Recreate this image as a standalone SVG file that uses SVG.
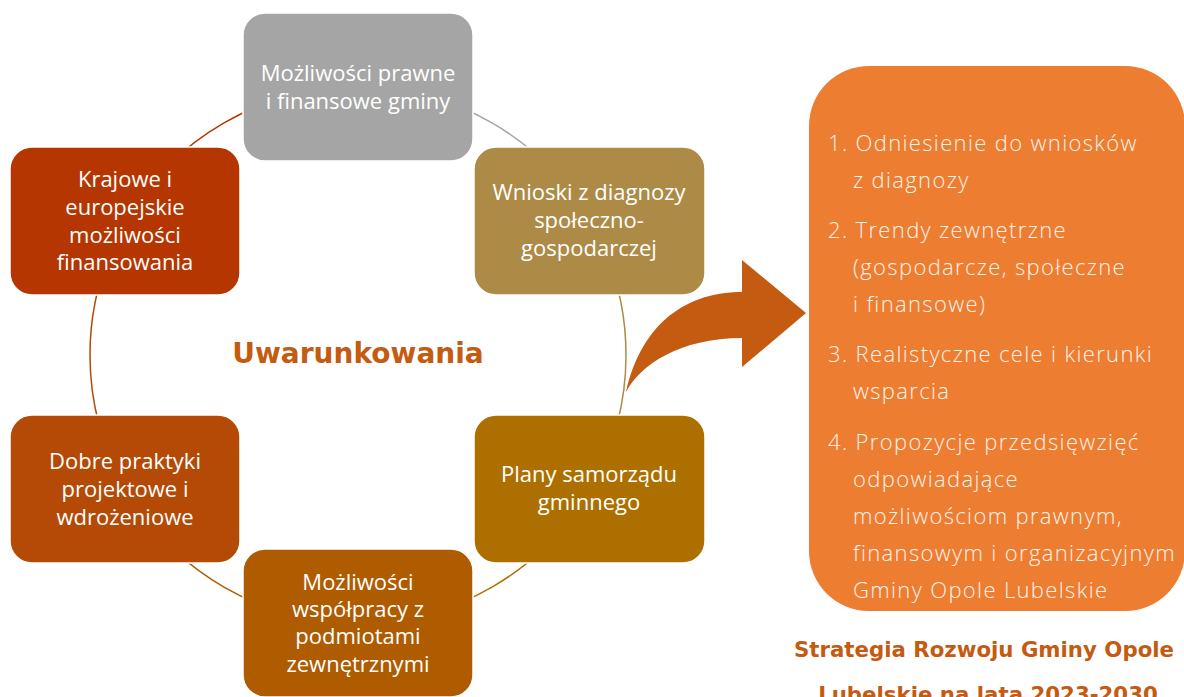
<svg xmlns="http://www.w3.org/2000/svg" width="1184" height="697" viewBox="0 0 1184 697">
<style>
.box{stroke:#ffffff;stroke-width:1.5}
.bt{font-family:"Open Sans","Liberation Sans",sans-serif;font-size:22px;fill:#ffffff;text-anchor:middle}
.arc{fill:none;stroke-width:1.5}
.rt{font-family:"Open Sans","Liberation Sans",sans-serif;font-weight:300;font-size:22px;letter-spacing:1.35px;fill:#fff4ec}
.title{font-family:"DejaVu Sans","Liberation Sans",sans-serif;font-weight:bold;fill:#c55a11;text-anchor:middle}
</style>
<rect width="1184" height="697" fill="#ffffff"/>
<g id="connectors">
<path class="arc" stroke="#a5a5a5" d="M358 87 A268 268 0 0 1 590.1 221"/>
<path class="arc" stroke="#ad8b46" d="M590.1 221 A268 268 0 0 1 590.1 489"/>
<path class="arc" stroke="#ad7000" d="M590.1 489 A268 268 0 0 1 358 623"/>
<path class="arc" stroke="#af5b00" d="M358 623 A268 268 0 0 1 125.9 489"/>
<path class="arc" stroke="#b44a06" d="M125.9 489 A268 268 0 0 1 125.9 221"/>
<path class="arc" stroke="#b53600" d="M125.9 221 A268 268 0 0 1 358 87"/>
</g>
<g id="n-prawne">
<rect class="box" x="243" y="13" width="230" height="148" rx="22" fill="#a5a5a5"/>
<text class="bt" x="358" y="81">Możliwości prawne</text>
<text class="bt" x="358" y="109">i finansowe gminy</text>
</g>
<g id="n-wnioski">
<rect class="box" x="474" y="147" width="231" height="148" rx="22" fill="#ad8b46"/>
<text class="bt" x="589" y="200">Wnioski z diagnozy</text>
<text class="bt" x="589" y="228">społeczno-</text>
<text class="bt" x="589" y="256">gospodarczej</text>
</g>
<g id="n-plany">
<rect class="box" x="474" y="415" width="231" height="148" rx="22" fill="#ad7000"/>
<text class="bt" x="589" y="482">Plany samorządu</text>
<text class="bt" x="589" y="510">gminnego</text>
</g>
<g id="n-wspolpraca">
<rect class="box" x="243" y="549" width="230" height="148" rx="22" fill="#af5b00"/>
<text class="bt" x="358" y="590">Możliwości</text>
<text class="bt" x="358" y="617">współpracy z</text>
<text class="bt" x="358" y="644">podmiotami</text>
<text class="bt" x="358" y="672">zewnętrznymi</text>
</g>
<g id="n-dobre">
<rect class="box" x="10" y="415" width="230" height="148" rx="22" fill="#b44a06"/>
<text class="bt" x="125" y="469">Dobre praktyki</text>
<text class="bt" x="125" y="497">projektowe i</text>
<text class="bt" x="125" y="525">wdrożeniowe</text>
</g>
<g id="n-krajowe">
<rect class="box" x="10" y="147" width="230" height="148" rx="22" fill="#b53600"/>
<text class="bt" x="125" y="187">Krajowe i</text>
<text class="bt" x="125" y="215">europejskie</text>
<text class="bt" x="125" y="243">możliwości</text>
<text class="bt" x="125" y="270">finansowania</text>
</g>
<g id="center-label">
<text class="title" x="358" y="363" font-size="28">Uwarunkowania</text>
</g>
<g id="arrow">
<path fill="#c55a11" d="M626 392 C640 330 680 292 742 292 L742 260 L806 313 L742 367 L742 338 C680 338 640 365 626 392 Z"/>
</g>
<g id="n-strategia">
<rect x="809" y="66" width="376" height="545" rx="60" fill="#ed7d31"/>
<text class="rt" x="828" y="151">1. Odniesienie do wniosków</text>
<text class="rt" x="853" y="188">z diagnozy</text>
<text class="rt" x="828" y="238">2. Trendy zewnętrzne</text>
<text class="rt" x="853" y="275">(gospodarcze, społeczne</text>
<text class="rt" x="853" y="312">i finansowe)</text>
<text class="rt" x="828" y="362">3. Realistyczne cele i kierunki</text>
<text class="rt" x="853" y="399">wsparcia</text>
<text class="rt" x="828" y="450">4. Propozycje przedsięwzięć</text>
<text class="rt" x="853" y="487">odpowiadające</text>
<text class="rt" x="853" y="524">możliwościom prawnym,</text>
<text class="rt" x="853" y="561">finansowym i organizacyjnym</text>
<text class="rt" x="853" y="598">Gminy Opole Lubelskie</text>
</g>
<g id="caption">
<text class="title" x="984" y="657" font-size="21.3">Strategia Rozwoju Gminy Opole</text>
<text class="title" x="988" y="702" font-size="21.3">Lubelskie na lata 2023-2030</text>
</g>
</svg>
